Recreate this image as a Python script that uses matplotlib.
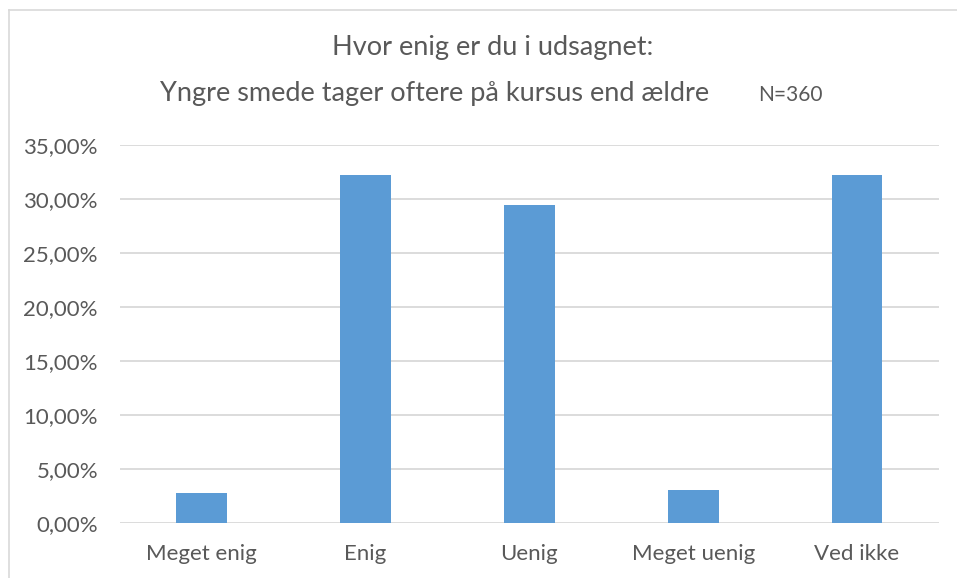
import numpy as np
import matplotlib.pyplot as plt
from matplotlib.lines import Line2D
from matplotlib.ticker import FuncFormatter

# Data (procent af N=360)
kategorier = ['Meget enig', 'Enig', 'Uenig', 'Meget uenig', 'Ved ikke']
andele = [2.78, 32.22, 29.44, 3.06, 32.22]
yticks = [0, 5, 10, 15, 20, 25, 30, 35]

plt.rcParams['font.family'] = ['Lato', 'DejaVu Sans']

fig = plt.figure(figsize=(9.57, 5.78), dpi=100)
W, H = 957, 578

# Ramme om diagrammet (lysegra)
fig.add_artist(Line2D([8.5 / W, 8.5 / W], [0, 1 - 9.5 / H], color='#d9d9d9', lw=1.2))
fig.add_artist(Line2D([8.5 / W, 1], [1 - 9.5 / H, 1 - 9.5 / H], color='#d9d9d9', lw=1.2))

ax = fig.add_axes([119.5 / W, 1 - 523 / H, (939 - 119.5) / W, (523 - 145) / H])

x = np.arange(len(kategorier))
ax.bar(x, andele, width=0.31, color='#5b9bd5', zorder=3)

ax.set_xlim(-0.5, len(kategorier) - 0.5)
ax.set_ylim(0, 35)
ax.set_yticks(yticks)
ax.yaxis.set_major_formatter(FuncFormatter(lambda v, p: ('%.2f%%' % v).replace('.', ',')))
ax.set_xticks(x)
ax.set_xticklabels(kategorier)
ax.tick_params(axis='both', length=0, colors='#595959', labelsize=16)
ax.tick_params(axis='y', pad=15.5)
ax.tick_params(axis='x', pad=15)
ax.grid(axis='y', color='#d9d9d9', lw=1.3, zorder=0)
for s in ax.spines.values():
    s.set_visible(False)

fig.text(493 / W, 1 - 48 / H, 'Hvor enig er du i udsagnet:', ha='center', va='center',
         fontsize=19.5, color='#595959')
fig.text(435 / W, 1 - 93 / H, 'Yngre smede tager oftere på kursus end ældre', ha='center', va='center',
         fontsize=19.5, color='#595959')
fig.text(790.5 / W, 1 - 95 / H, 'N=360', ha='center', va='center', fontsize=15, color='#595959')

fig.savefig('out.png', dpi=100)
